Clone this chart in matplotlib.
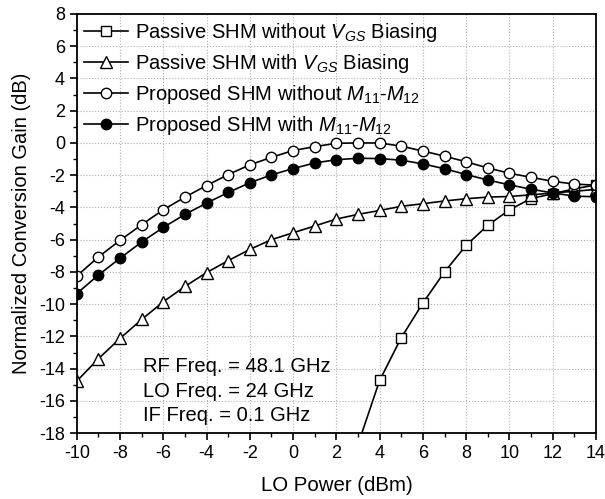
import matplotlib
matplotlib.use('Agg')
import matplotlib.pyplot as plt
from matplotlib.ticker import MultipleLocator

plt.rcParams['font.family'] = ['Liberation Sans', 'DejaVu Sans']
plt.rcParams['mathtext.fontset'] = 'custom'
plt.rcParams['mathtext.rm'] = 'Liberation Sans'
plt.rcParams['mathtext.it'] = 'Liberation Sans:italic'
plt.rcParams['axes.unicode_minus'] = False

# LO power sweep (dBm)
lo_power = list(range(-10, 15))

# passive SHM without VGS biasing only shows up from 3 dBm
lo_power_passive = list(range(3, 15))
passive_no_vgs = [-18.7, -14.73, -12.08, -9.93, -8.0, -6.35, -5.11, -4.15,
                  -3.45, -3.15, -2.85, -2.6]

passive_vgs = [-14.77, -13.38, -12.12, -10.95, -9.85, -8.9, -8.04, -7.3, -6.6,
               -6.0, -5.57, -5.15, -4.72, -4.43, -4.19, -3.93, -3.77, -3.6,
               -3.46, -3.36, -3.32, -3.22, -3.1, -3.0, -2.88]

proposed_no_m = [-8.25, -7.07, -6.04, -5.07, -4.14, -3.36, -2.64, -1.96, -1.36,
                 -0.89, -0.47, -0.23, -0.02, 0.0, 0.0, -0.2, -0.5, -0.82,
                 -1.17, -1.55, -1.88, -2.13, -2.38, -2.55, -2.62]

proposed_m = [-9.34, -8.19, -7.15, -6.14, -5.24, -4.43, -3.73, -3.07, -2.47,
              -1.98, -1.59, -1.24, -1.04, -0.95, -0.97, -1.07, -1.3, -1.6,
              -1.96, -2.3, -2.6, -2.87, -3.1, -3.3, -3.34]

labels = ['Passive SHM without $V_{GS}$ Biasing',
          'Passive SHM with $V_{GS}$ Biasing',
          'Proposed SHM without $M_{11}$-$M_{12}$',
          'Proposed SHM with $M_{11}$-$M_{12}$']

fig = plt.figure(figsize=(6.05, 4.99), dpi=100)
ax = fig.add_axes([0.127, 0.132, 0.858, 0.840])

lw = 1.2
ax.plot(lo_power_passive, passive_no_vgs, '-s', color='black', lw=lw,
        mfc='white', mec='black', mew=1.0, ms=6.5, label=labels[0])
ax.plot(lo_power, passive_vgs, '-^', color='black', lw=lw,
        mfc='white', mec='black', mew=1.0, ms=8, label=labels[1])
ax.plot(lo_power, proposed_no_m, '-o', color='black', lw=lw,
        mfc='white', mec='black', mew=1.0, ms=7.5, label=labels[2])
ax.plot(lo_power, proposed_m, '-o', color='black', lw=lw,
        mfc='black', mec='black', mew=1.0, ms=7.5, label=labels[3])

ax.set_xlim(-10, 14)
ax.set_ylim(-18, 8)
ax.xaxis.set_major_locator(MultipleLocator(2))
ax.xaxis.set_minor_locator(MultipleLocator(1))
ax.yaxis.set_major_locator(MultipleLocator(2))
ax.yaxis.set_minor_locator(MultipleLocator(1))
ax.tick_params(which='major', direction='out', length=5, width=1.2, labelsize=13)
ax.tick_params(which='minor', direction='out', length=3, width=1.0)
ax.grid(True, which='major', linestyle=':', color='#b0b0b0', lw=0.8)
for s in ax.spines.values():
    s.set_linewidth(1.3)

ax.set_xlabel('LO Power (dBm)', fontsize=14.7, labelpad=10)
ax.set_ylabel('Normalized Conversion Gain (dB)', fontsize=14.5, labelpad=6)

ax.legend(loc='upper left', bbox_to_anchor=(-0.006, 1.008), frameon=False,
          fontsize=14.5, handlelength=2.2, handletextpad=0.35, labelspacing=0.4,
          borderaxespad=0.1, numpoints=1)

ax.text(0.127, 0.159, 'RF Freq. = 48.1 GHz', transform=ax.transAxes,
        fontsize=14.5, va='center', ha='left')
ax.text(0.127, 0.100, 'LO Freq. = 24 GHz', transform=ax.transAxes,
        fontsize=14.5, va='center', ha='left')
ax.text(0.127, 0.042, 'IF Freq. = 0.1 GHz', transform=ax.transAxes,
        fontsize=14.5, va='center', ha='left')

fig.savefig('out.png', dpi=100)
